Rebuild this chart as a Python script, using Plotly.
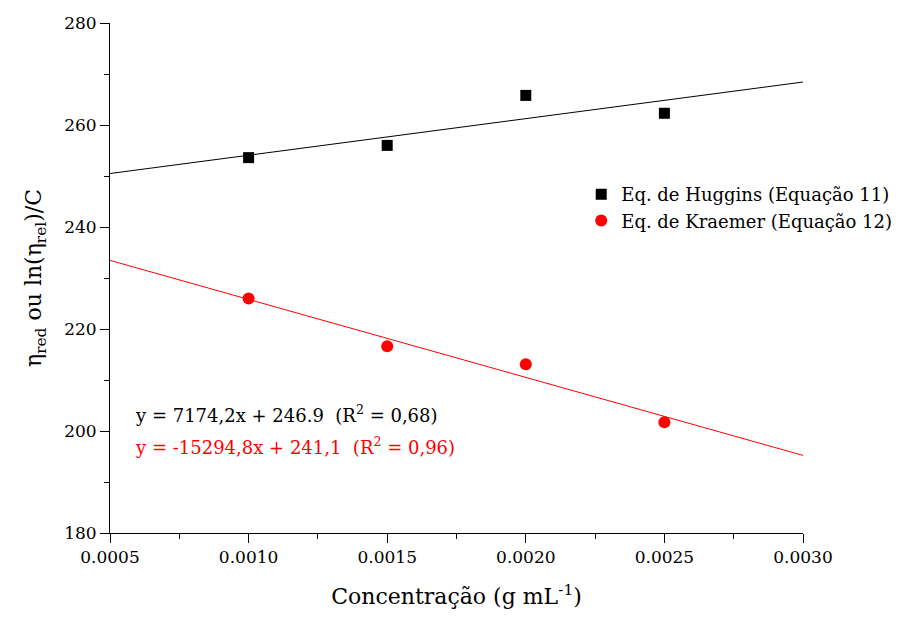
import plotly.graph_objects as go

conc = [0.0010, 0.0015, 0.0020, 0.0025]
huggins = [253.6, 256.0, 265.8, 262.3]
kraemer = [226.0, 216.6, 213.1, 201.7]

fit_x = [0.0005, 0.0030]
huggins_fit = (7174.2, 246.9)
kraemer_fit = (-15294.8, 241.1)

x_range = [0.0005, 0.0030]
y_range = [180, 280]

eq_huggins = "y = 7174,2x + 246.9  (R<sup>2</sup> = 0,68)"
eq_kraemer = "y = -15294,8x + 241,1  (R<sup>2</sup> = 0,96)"

FONT = "DejaVu Serif"

fig = go.Figure()
fig.add_trace(go.Scatter(x=fit_x, y=[huggins_fit[0]*v + huggins_fit[1] for v in fit_x],
                         mode="lines", line=dict(color="black", width=1), showlegend=False))
fig.add_trace(go.Scatter(x=fit_x, y=[kraemer_fit[0]*v + kraemer_fit[1] for v in fit_x],
                         mode="lines", line=dict(color="red", width=1), showlegend=False))
fig.add_trace(go.Scatter(x=conc, y=huggins, mode="markers", name="Eq. de Huggins (Equação 11)",
                         marker=dict(symbol="square", size=11, color="black")))
fig.add_trace(go.Scatter(x=conc, y=kraemer, mode="markers", name="Eq. de Kraemer (Equação 12)",
                         marker=dict(symbol="circle", size=12, color="red")))
# invisible trace to activate the minor-tick overlay axes
fig.add_trace(go.Scatter(x=x_range, y=y_range, xaxis="x2", yaxis="y2", mode="markers",
                         marker=dict(opacity=0), showlegend=False, hoverinfo="skip"))

fig.add_annotation(x=0.033, y=0.233, xref="paper", yref="paper", xanchor="left", yanchor="middle",
                   text=eq_huggins, showarrow=False, font=dict(family=FONT, size=18, color="black"))
fig.add_annotation(x=0.033, y=0.171, xref="paper", yref="paper", xanchor="left", yanchor="middle",
                   text=eq_kraemer, showarrow=False, font=dict(family=FONT, size=18, color="red"))

fig.update_layout(
    template="none",
    width=922, height=628,
    margin=dict(l=110, r=119, t=23, b=95),
    paper_bgcolor="white", plot_bgcolor="white",
    font=dict(family=FONT, size=18, color="black"),
    legend=dict(x=0.68, y=0.70, xanchor="left", yanchor="top", bgcolor="rgba(0,0,0,0)",
                font=dict(family=FONT, size=18), itemsizing="trace", tracegroupgap=0),
    xaxis=dict(
        range=x_range, tickmode="linear", tick0=0.0005, dtick=0.0005, tickformat=".4f",
        tickfont=dict(family=FONT, size=17, color="black"),
        showgrid=False, zeroline=False, showline=True, linecolor="black", linewidth=1,
        ticks="outside", ticklen=9, tickcolor="black",
        title=dict(text="Concentração (g mL<sup>-1</sup>)", font=dict(family=FONT, size=22), standoff=22),
    ),
    yaxis=dict(
        range=y_range, tickmode="linear", tick0=180, dtick=20,
        tickfont=dict(family=FONT, size=17, color="black"),
        showgrid=False, zeroline=False, showline=True, linecolor="black", linewidth=1,
        ticks="outside", ticklen=9, tickcolor="black",
        title=dict(text="η<sub>red</sub> ou ln(η<sub>rel</sub>)/C", font=dict(family=FONT, size=22), standoff=16),
    ),
    xaxis2=dict(range=x_range, overlaying="x", side="bottom", anchor="y", tickmode="linear",
                tick0=0.0005, dtick=0.00025, ticks="outside", ticklen=5, tickcolor="black",
                showticklabels=False, showgrid=False, zeroline=False, showline=False),
    yaxis2=dict(range=y_range, overlaying="y", side="left", anchor="x", tickmode="linear",
                tick0=180, dtick=10, ticks="outside", ticklen=5, tickcolor="black",
                showticklabels=False, showgrid=False, zeroline=False, showline=False),
)

fig.write_html("out.html")
